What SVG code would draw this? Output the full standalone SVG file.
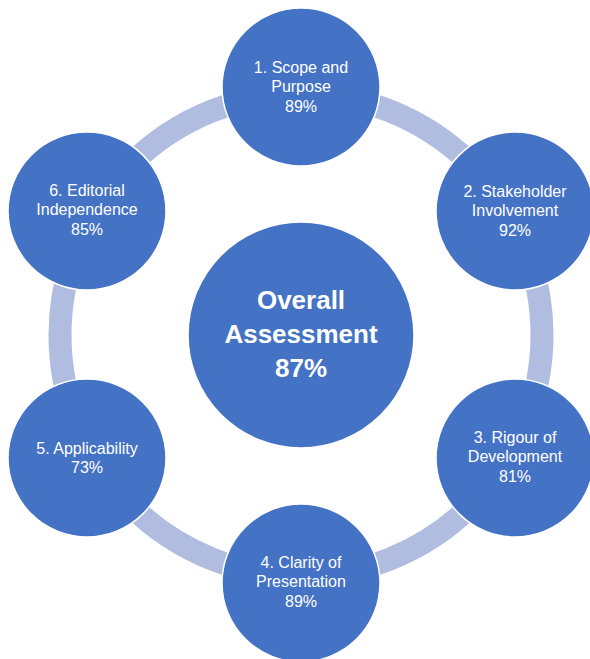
<svg xmlns="http://www.w3.org/2000/svg" width="590" height="659" viewBox="0 0 590 659">
<style>
.node{fill:#4472C4;stroke:#FFFFFF;stroke-width:1.5}
.ring{fill:none;stroke:#B0BDE0;stroke-width:23}
.t{font-family:"Liberation Sans",Arial,sans-serif;font-size:16px;fill:#FFFFFF;text-anchor:middle}
.c{font-family:"Liberation Sans",Arial,sans-serif;font-size:26px;font-weight:bold;fill:#FFFFFF;text-anchor:middle}
</style>
<rect width="590" height="659" fill="#FFFFFF"/>
<g id="connectors">
<circle class="ring" cx="301" cy="335" r="241"/>
</g>
<g id="center">
<circle class="node" cx="301" cy="335" r="113"/>
<text class="c" x="301" y="309">Overall</text>
<text class="c" x="301" y="343">Assessment</text>
<text class="c" x="301" y="377">87%</text>
</g>
<g id="node1">
<circle class="node" cx="301" cy="87" r="79"/>
<text class="t" x="301" y="73">1. Scope and</text>
<text class="t" x="301" y="92">Purpose</text>
<text class="t" x="301" y="112">89%</text>
</g>
<g id="node2">
<circle class="node" cx="515" cy="211" r="79"/>
<text class="t" x="515" y="197">2. Stakeholder</text>
<text class="t" x="515" y="216">Involvement</text>
<text class="t" x="515" y="236">92%</text>
</g>
<g id="node3">
<circle class="node" cx="515" cy="458" r="79"/>
<text class="t" x="515" y="443">3. Rigour of</text>
<text class="t" x="515" y="462">Development</text>
<text class="t" x="515" y="482">81%</text>
</g>
<g id="node4">
<circle class="node" cx="301" cy="583" r="79"/>
<text class="t" x="301" y="568">4. Clarity of</text>
<text class="t" x="301" y="587">Presentation</text>
<text class="t" x="301" y="607">89%</text>
</g>
<g id="node5">
<circle class="node" cx="87" cy="458" r="79"/>
<text class="t" x="87" y="454">5. Applicability</text>
<text class="t" x="87" y="473">73%</text>
</g>
<g id="node6">
<circle class="node" cx="87" cy="211" r="79"/>
<text class="t" x="87" y="196">6. Editorial</text>
<text class="t" x="87" y="215">Independence</text>
<text class="t" x="87" y="235">85%</text>
</g>
</svg>
